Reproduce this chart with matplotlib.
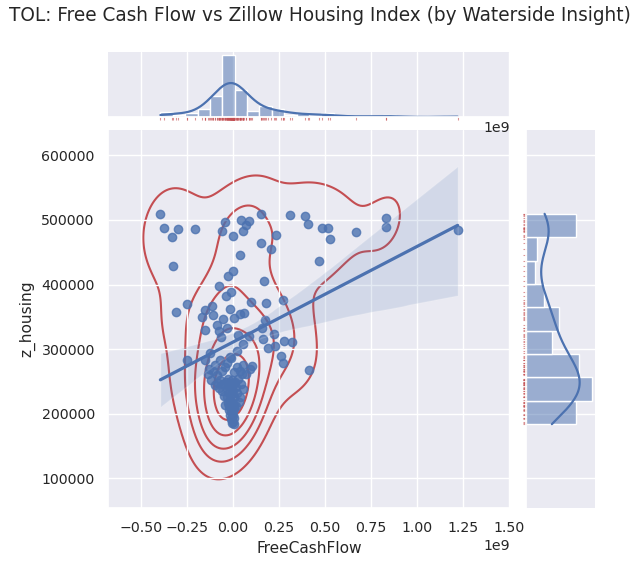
import matplotlib
matplotlib.use("Agg")
import matplotlib.pyplot as plt
import numpy as np
import pandas as pd
import seaborn as sns

# free cash flow in billions (axis shows 1e9), housing index in dollars
fcf_outer = [-0.394, -0.376, -0.300, -0.332, -0.205, -0.327, -0.044, -0.058, 0.042, 0.089,
             0.071, 0.053, 0.000, 0.153, 0.236, 0.153, 0.209, 0.036, 0.309, 0.389,
             0.405, 0.483, 0.516, 0.525, 0.667, 0.467, 0.830, 0.830, 1.219, 0.000,
             -0.027, 0.167, -0.075, -0.011, -0.038, -0.252, -0.311, -0.114, -0.153, -0.169,
             -0.111, -0.016, -0.054, 0.005, 0.040, 0.058, 0.100, 0.180, 0.269, -0.153,
             -0.089, -0.078, -0.064, 0.025, 0.089, 0.158, 0.172, 0.225, 0.163, 0.056,
             0.278, 0.320, 0.189, 0.227, 0.262, 0.271, 0.410, -0.249, -0.153, -0.127,
             0.020, -0.011, -0.030]
zh_outer = [509400, 486900, 485800, 473300, 485300, 429300, 496300, 482200, 500600, 497900,
            491600, 482700, 474800, 509400, 476400, 463900, 455000, 446100, 507800, 505300,
            493200, 488000, 488000, 470100, 480600, 437100, 503200, 489600, 484400, 420500,
            412600, 404800, 397400, 388400, 381700, 370200, 357600, 367100, 360200, 350300,
            352300, 362800, 346600, 347600, 355000, 356600, 372700, 371800, 375900, 330300,
            337200, 328800, 319300, 322500, 320900, 333000, 345100, 324000, 315200, 308300,
            312000, 310500, 302000, 305200, 290100, 279100, 268100, 283200, 282800, 294200,
            296900, 286300, 333000]

# dense cluster around zero cash flow
fcf_cluster = [-0.138, -0.128, -0.118, -0.110, -0.100, -0.095,
               -0.088, -0.082, -0.078, -0.072, -0.068, -0.062, -0.058, -0.052, -0.048, -0.045, -0.043,
               -0.030, -0.017, 0.004,
               -0.038, -0.035, -0.033, -0.028, -0.026, -0.022, -0.019, -0.015, -0.011, -0.008,
               -0.005, -0.002, 0.001, 0.005, 0.008,
               -0.027, -0.024, -0.021, -0.018, -0.016, -0.013, -0.012, -0.010, -0.008, -0.007,
               -0.005, -0.004, -0.002, 0.000, 0.001, 0.002, 0.003, 0.005, 0.006, 0.007,
               0.024, 0.036, 0.048, 0.057,
               0.012, 0.018, 0.021, 0.028, 0.040, 0.044, 0.053,
               0.015, 0.032,
               0.068, 0.093, 0.105]
zh_cluster = [262000, 270000, 252000, 266000, 244000, 276000,
              260000, 248000, 240000, 284000, 252000, 266000, 236000, 246000, 228000, 214000, 272000,
              278000, 288000, 264000,
              250000, 238000, 226000, 254000, 244000, 232000, 248000, 222000, 240000, 252000,
              230000, 244000, 236000, 226000, 248000,
              216000, 206000, 212000, 198000, 218000, 204000, 192000, 210000, 186000, 200000,
              214000, 194000, 206000, 188000, 216000, 198000, 184000, 208000, 194000, 212000,
              272000, 266000, 262000, 276000,
              250000, 242000, 232000, 254000, 226000, 246000, 238000,
              212000, 218000,
              262000, 268600, 273800]

df = pd.DataFrame({
    "FreeCashFlow": np.array(fcf_outer + fcf_cluster) * 1e9,
    "z_housing": np.array(zh_outer + zh_cluster, dtype=float),
})

sns.set_theme(style="darkgrid", font_scale=0.927)

g = sns.jointplot(x="FreeCashFlow", y="z_housing", data=df, kind="reg",
                  joint_kws={"seed": 0, "line_kws": {"linewidth": 2.3}},
                  marginal_kws={"line_kws": {"linewidth": 1.6}})
g.plot_joint(sns.kdeplot, color="r", zorder=0, levels=6)

# rug under the marginals, keep the histogram scaling
ylim_mx = g.ax_marg_x.get_ylim()
xlim_my = g.ax_marg_y.get_xlim()
g.plot_marginals(sns.rugplot, color="r", height=-.04, clip_on=False, linewidth=0.8, alpha=0.6)
g.ax_marg_x.set_ylim(ylim_mx)
g.ax_marg_y.set_xlim(xlim_my)

fig = g.figure
fig.set_size_inches(6.4, 5.66)
W, H = 640, 566
def pos(x0, y0, x1, y1):
    return [x0 / W, 1 - y1 / H, (x1 - x0) / W, (y1 - y0) / H]
g.ax_joint.set_position(pos(108, 130, 510, 508))
g.ax_marg_x.set_position(pos(108, 52, 510, 117))
g.ax_marg_y.set_position(pos(526, 130, 595, 508))

fig.text(0.5, 1 - 21 / H, "TOL: Free Cash Flow vs Zillow Housing Index (by Waterside Insight)",
         ha="center", va="baseline", fontsize=13.35)

fig.savefig("out.png", dpi=100)
